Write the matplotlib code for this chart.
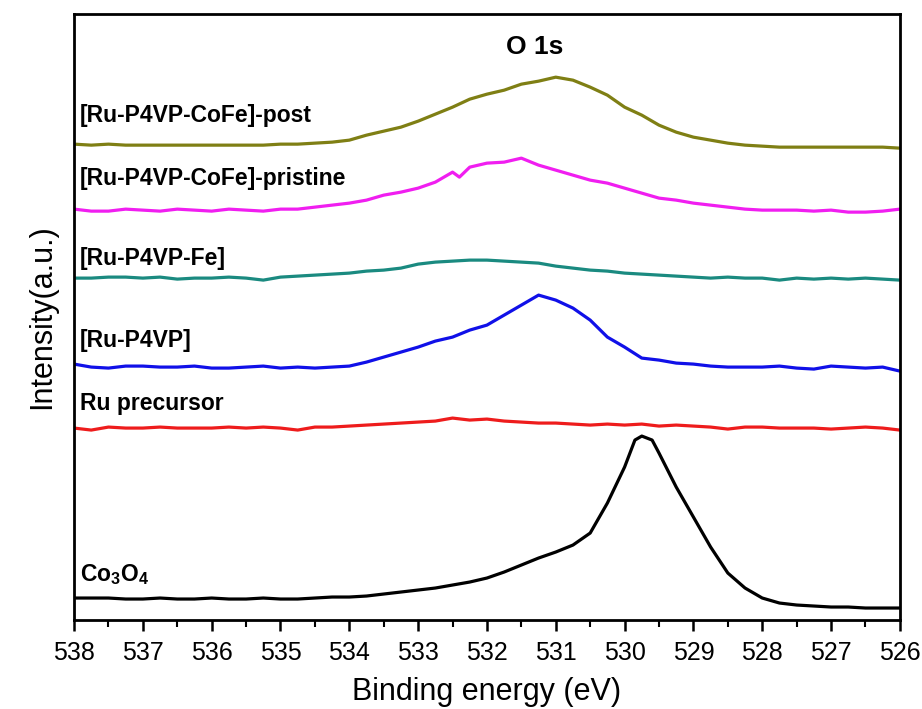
import matplotlib
matplotlib.use("Agg")
import matplotlib.pyplot as plt
from matplotlib.ticker import MultipleLocator

plt.rcParams['font.family'] = ['Liberation Sans', 'DejaVu Sans']
plt.rcParams['mathtext.fontset'] = 'custom'
plt.rcParams['mathtext.rm'] = 'Liberation Sans'
plt.rcParams['mathtext.bf'] = 'Liberation Sans:bold'

# Binding energy grid (eV)
energy = [538.0, 537.75, 537.5, 537.25, 537.0, 536.75, 536.5, 536.25, 536.0,
          535.75, 535.5, 535.25, 535.0, 534.75, 534.5, 534.25, 534.0, 533.75,
          533.5, 533.25, 533.0, 532.75, 532.5, 532.25, 532.0, 531.75, 531.5,
          531.25, 531.0, 530.75, 530.5, 530.25, 530.0, 529.75, 529.5, 529.25,
          529.0, 528.75, 528.5, 528.25, 528.0, 527.75, 527.5, 527.25, 527.0,
          526.75, 526.5, 526.25, 526.0]

# Co3O4 (finer around the peak)
co3o4_energy = [538.0, 537.75, 537.5, 537.25, 537.0, 536.75, 536.5, 536.25, 536.0,
                535.75, 535.5, 535.25, 535.0, 534.75, 534.5, 534.25, 534.0, 533.75,
                533.5, 533.25, 533.0, 532.75, 532.5, 532.25, 532.0, 531.75, 531.5,
                531.25, 531.0, 530.75, 530.5, 530.25, 530.0, 529.85, 529.75, 529.6,
                529.5, 529.25, 529.0, 528.75, 528.5, 528.25, 528.0, 527.75, 527.5,
                527.25, 527.0, 526.75, 526.5, 526.25, 526.0]
co3o4 = [22, 22, 22, 21, 21, 22, 21, 21, 22, 21, 21, 22, 21, 21, 22, 23, 23, 24,
         26, 28, 30, 32, 35, 38, 42, 48, 55, 62, 68, 75, 87, 117, 153, 180, 184, 180,
         167, 133, 103, 73, 47, 32, 22, 17, 15, 14, 13, 13, 12, 12, 12]

ru_precursor = [192, 190, 193, 192, 192, 193, 192, 192, 192, 193, 192, 193, 192, 190,
                193, 193, 194, 195, 196, 197, 198, 199, 202, 200, 201, 199, 198, 197,
                197, 196, 195, 196, 195, 196, 194, 195, 194, 193, 191, 193, 193, 192,
                192, 192, 191, 192, 193, 192, 190]

ru_p4vp = [256, 253, 252, 254, 254, 253, 253, 254, 252, 252, 253, 254, 252, 253,
           252, 253, 254, 258, 263, 268, 273, 279, 283, 290, 295, 305, 315, 325,
           320, 312, 300, 283, 273, 262, 260, 257, 256, 254, 253, 253, 253, 254,
           252, 251, 254, 253, 252, 253, 249]

ru_p4vp_fe = [342, 342, 343, 343, 342, 343, 341, 342, 342, 343, 342, 340, 343, 344,
              345, 346, 347, 349, 350, 352, 356, 358, 359, 360, 360, 359, 358, 357,
              354, 352, 350, 349, 347, 346, 345, 344, 343, 342, 343, 342, 342, 340,
              342, 341, 342, 341, 342, 341, 340]

pristine_energy = energy[:23] + [532.4] + energy[23:]
pristine = [411, 409, 409, 411, 410, 409, 411, 410, 409, 411, 410, 409, 411, 411,
            413, 415, 417, 420, 425, 428, 432, 438, 448, 443, 453, 457, 458, 462,
            455, 450, 445, 440, 437, 432, 427, 422, 420, 417, 415, 413, 411, 410,
            410, 410, 409, 410, 408, 408, 409, 411]

post = [476, 475, 476, 475, 475, 475, 475, 475, 475, 475, 475, 475, 476, 476,
        477, 478, 480, 485, 489, 493, 499, 506, 513, 521, 526, 530, 536, 539,
        543, 540, 533, 525, 513, 505, 495, 488, 483, 480, 477, 475, 474, 473,
        473, 473, 473, 473, 473, 473, 472]

series = [
    (co3o4_energy, co3o4, 'black'),
    (energy, ru_precursor, '#ee1c1c'),
    (energy, ru_p4vp, '#1010e8'),
    (energy, ru_p4vp_fe, '#1a8a80'),
    (pristine_energy, pristine, '#f01ef0'),
    (energy, post, '#7f7f14'),
]

labels = ['$\\mathbf{Co_3O_4}$', 'Ru precursor', '[Ru-P4VP]', '[Ru-P4VP-Fe]',
          '[Ru-P4VP-CoFe]-pristine', '[Ru-P4VP-CoFe]-post']
label_y = [45, 217, 280, 362, 442, 505]

fig = plt.figure(figsize=(9.22, 7.09), dpi=100)
ax = fig.add_axes([0.0803, 0.1255, 0.8957, 0.8545])

for x, y, c in series:
    ax.plot(x, y, color=c, lw=2.3)

for lab, ly in zip(labels, label_y):
    ax.text(537.92, ly, lab, fontsize=16.5, fontweight='bold', ha='left', va='center')

ax.text(531.3, 573, 'O 1s', fontsize=19, fontweight='bold', ha='center', va='center')

ax.set_xlim(538, 526)
ax.set_ylim(0, 606)
ax.xaxis.set_major_locator(MultipleLocator(1))
ax.xaxis.set_minor_locator(MultipleLocator(0.5))
ax.set_yticks([])
ax.tick_params(axis='x', which='major', direction='out', length=8, width=1.8,
               labelsize=18, pad=7)
ax.tick_params(axis='x', which='minor', direction='out', length=5, width=1.5)
for s in ax.spines.values():
    s.set_linewidth(2.0)
ax.set_xlabel('Binding energy (eV)', fontsize=22, labelpad=9)
ax.set_ylabel('Intensity(a.u.)', fontsize=22, labelpad=12)

fig.savefig('out.png', dpi=100)
